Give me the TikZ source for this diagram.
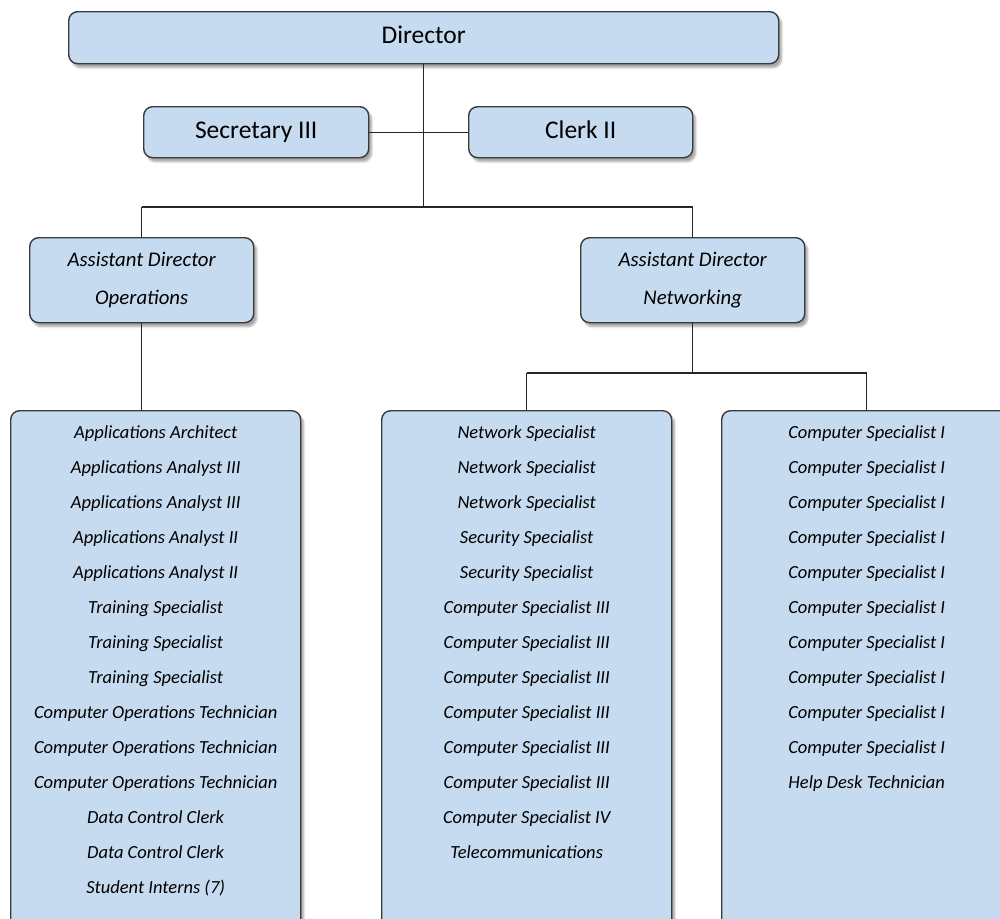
\documentclass[tikz,border=0pt]{standalone}
\usepackage{fontspec}
\setmainfont{Carlito}
\usepackage{tikz}
\usetikzlibrary{positioning}
\usetikzlibrary{calc,shadows.blur}
\definecolor{boxfill}{HTML}{C6DBF0}
\definecolor{boxline}{HTML}{3A3A3A}
\tikzset{
  orgbox/.style={draw=boxline, line width=1.4pt, fill=boxfill, rounded corners=9pt,
    blur shadow={shadow xshift=3pt, shadow yshift=-4pt, shadow opacity=35, shadow blur steps=6},
    inner sep=0pt, anchor=north west},
  headbox/.style={orgbox, font=\fontsize{25.5}{30}\selectfont, text height=17pt, text depth=5pt},
  subbox/.style={orgbox, font=\fontsize{20.8}{25}\selectfont\itshape, align=center},
  listbox/.style={orgbox, minimum width=290pt, minimum height=520pt},
  item/.style={font=\fontsize{18.5}{22}\selectfont\itshape, inner sep=0pt, anchor=base},
  link/.style={draw=black!85, line width=1.2pt}
}

\begin{document}
\begin{tikzpicture}[x=1pt,y=-1pt]
\useasboundingbox (0,0) rectangle (1000,918);
\clip (0,0) rectangle (1000,918);

% Top level
\node[headbox, minimum width=710pt, minimum height=52pt] (dir) at (68,11) {Director};
\node[headbox, minimum width=225pt, minimum height=51pt] (sec) at (143,106) {Secretary III};
\node[headbox, minimum width=224pt, minimum height=51pt] (clerk) at (468,106) {Clerk II};

% Assistant directors
\node[subbox, minimum width=224pt, minimum height=85pt] (adops) at (29,237) {Assistant Director\\[13pt]Operations};
\node[subbox, minimum width=224pt, minimum height=85pt] (adnet) at (580,237) {Assistant Director\\[13pt]Networking};

% Staff lists
\node[listbox] (ops) at (10,410) {};
\node[listbox] (net) at (381,410) {};
\node[listbox] (comp) at (721,410) {};

\foreach \t [count=\i] in {Applications Architect, Applications Analyst III,
    Applications Analyst III, Applications Analyst II, Applications Analyst II,
    Training Specialist, Training Specialist, Training Specialist,
    Computer Operations Technician, Computer Operations Technician,
    Computer Operations Technician, Data Control Clerk, Data Control Clerk,
    Student Interns (7)}
  \node[item] (ops-\i) at ($(ops.north)+(0,{28+35*(\i-1)})$) {\t};

\foreach \t [count=\i] in {Network Specialist, Network Specialist,
    Network Specialist, Security Specialist, Security Specialist,
    Computer Specialist III, Computer Specialist III, Computer Specialist III,
    Computer Specialist III, Computer Specialist III, Computer Specialist III,
    Computer Specialist IV, Telecommunications}
  \node[item] (net-\i) at ($(net.north)+(0,{28+35*(\i-1)})$) {\t};

\foreach \t [count=\i] in {Computer Specialist I, Computer Specialist I,
    Computer Specialist I, Computer Specialist I, Computer Specialist I,
    Computer Specialist I, Computer Specialist I, Computer Specialist I,
    Computer Specialist I, Computer Specialist I, Help Desk Technician}
  \node[item] (comp-\i) at ($(comp.north)+(0,{28+35*(\i-1)})$) {\t};

% Connectors
\coordinate (busL) at (adops.north |- 0,207);
\coordinate (busR) at (adnet.north |- 0,207);
\coordinate (netL) at (net.north |- 0,373);
\coordinate (netR) at (comp.north |- 0,373);

\draw[link] (dir.south) -- (dir.south |- busL);
\draw[link] (sec.east) -- (clerk.west);
\draw[link] (busL) -- (busR);
\draw[link] (busL) -- (adops.north);
\draw[link] (busR) -- (adnet.north);
\draw[link] (adops.south) -- (adops.south |- ops.north);
\draw[link] (adnet.south) -- (adnet.south |- netL);
\draw[link] (netL) -- (netR);
\draw[link] (netL) -- (net.north);
\draw[link] (netR) -- (comp.north);

\end{tikzpicture}
\end{document}
